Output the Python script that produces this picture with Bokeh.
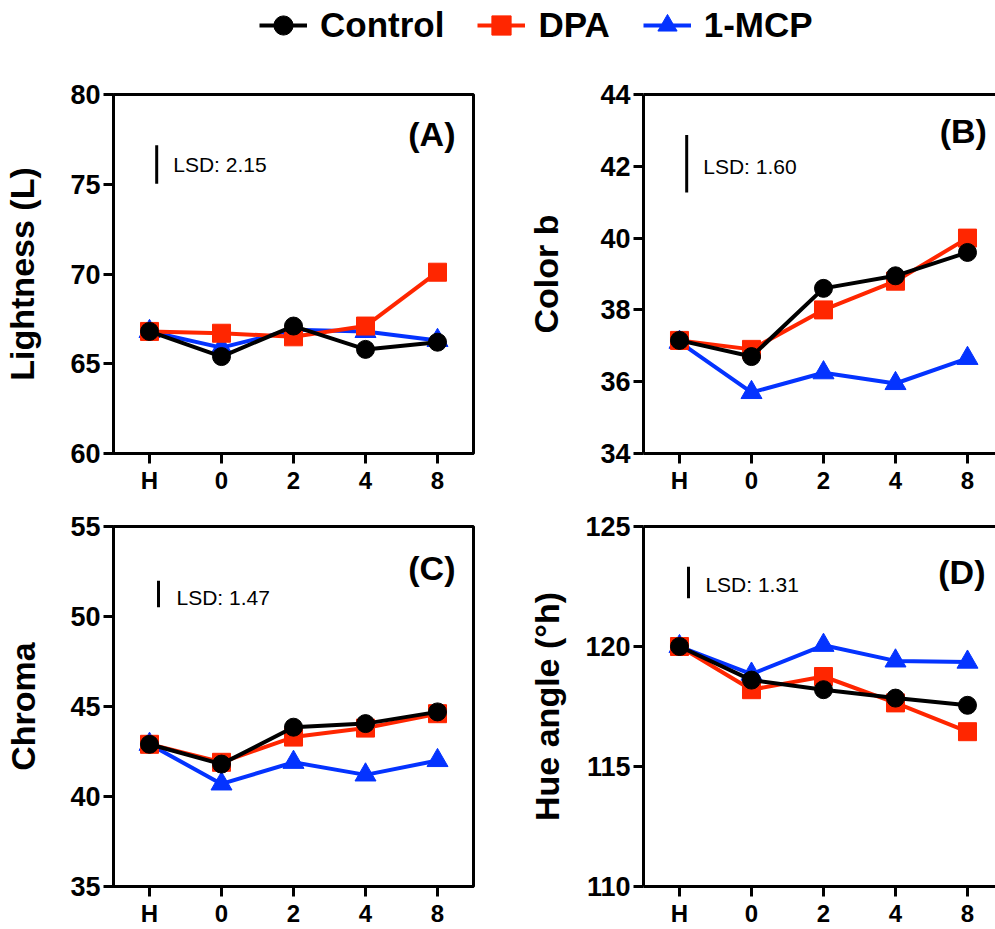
from bokeh.plotting import figure
from bokeh.models import (ColumnDataSource, Range1d, FixedTicker, LinearAxis,
                          Label, Legend, LegendItem)
from bokeh.layouts import column, row
from bokeh.embed import file_html
from bokeh.resources import INLINE

# ---------------- data ----------------
categories = ["H", "0", "2", "4", "8"]
series_names = ["Control", "DPA", "1-MCP"]

lightness_control = [66.8, 65.4, 67.1, 65.8, 66.2]
lightness_dpa = [66.8, 66.7, 66.5, 67.1, 70.1]
lightness_mcp = [66.8, 65.9, 66.9, 66.8, 66.3]

colorb_control = [37.15, 36.7, 38.6, 38.95, 39.6]
colorb_dpa = [37.15, 36.9, 38.0, 38.8, 40.0]
colorb_mcp = [37.1, 35.7, 36.25, 35.95, 36.65]

chroma_control = [42.9, 41.8, 43.85, 44.05, 44.7]
chroma_dpa = [42.9, 41.9, 43.3, 43.8, 44.6]
chroma_mcp = [42.9, 40.7, 41.9, 41.2, 42.0]

hue_control = [120.0, 118.6, 118.2, 117.85, 117.55]
hue_dpa = [120.0, 118.2, 118.75, 117.65, 116.45]
hue_mcp = [120.0, 118.85, 120.05, 119.4, 119.35]

lsd_values = [2.15, 1.60, 1.47, 1.31]
panel_tags = ["(A)", "(B)", "(C)", "(D)"]
y_titles = ["Lightness (L)", "Color b", "Chroma", "Hue angle (\u00b0h)"]
yticks_a = [60, 65, 70, 75, 80]
yticks_b = [34, 36, 38, 40, 42, 44]
yticks_c = [35, 40, 45, 50, 55]
yticks_d = [110, 115, 120, 125]

# ---------------- style ----------------
FONT = "Liberation Sans"
COLORS = {"Control": "#000000", "DPA": "#FF2600", "1-MCP": "#0433FF"}
MARKERS = {"Control": "circle", "DPA": "square", "1-MCP": "triangle"}
SIZES = {"Control": 18, "DPA": 18, "1-MCP": 21}
DRAW_ORDER = ["1-MCP", "DPA", "Control"]

xs = list(range(len(categories)))


def make_panel(ytitle, series, yticks, tag, tag_xy, lsd, lsd_x, lsd_mid,
               lsd_txt_xy, left_col, top_row, title_standoff):
    w = 500 if left_col else 495
    h = 448 if top_row else 429
    x_end = 4.5 if left_col else 4.389
    p = figure(width=w, height=h,
               x_range=Range1d(-0.5, x_end),
               y_range=Range1d(yticks[0], yticks[-1]),
               toolbar_location=None, output_backend="svg", tools="",
               min_border_left=113 if left_col else 143,
               min_border_right=27 if left_col else 0,
               min_border_top=42 if top_row else 26,
               min_border_bottom=47 if top_row else 43)
    p.xgrid.visible = False
    p.ygrid.visible = False
    p.background_fill_color = "white"
    p.border_fill_color = "white"
    for ax in (p.xaxis[0], p.yaxis[0]):
        ax.axis_line_width = 3
        ax.axis_line_color = "black"
        ax.major_tick_line_width = 3
        ax.major_tick_line_color = "black"
        ax.major_tick_out = 10
        ax.major_tick_in = 0
        ax.minor_tick_line_color = None
        ax.major_label_text_font = FONT
        ax.major_label_text_font_style = "bold"
        ax.major_label_text_color = "black"
        ax.major_label_standoff = 3
    p.xaxis.ticker = FixedTicker(ticks=xs)
    p.xaxis.major_label_overrides = {i: c for i, c in zip(xs, categories)}
    p.xaxis.major_label_text_font_size = "24px"
    p.yaxis.ticker = FixedTicker(ticks=yticks)
    p.yaxis.major_label_text_font_size = "27px"
    p.yaxis.axis_label = ytitle
    p.yaxis.axis_label_text_font = FONT
    p.yaxis.axis_label_text_font_size = "34px"
    p.yaxis.axis_label_text_font_style = "bold"
    p.yaxis.axis_label_text_color = "black"
    p.yaxis.axis_label_standoff = title_standoff

    if left_col:
        p.outline_line_color = "black"
        p.outline_line_width = 3
        p.outline_line_alpha = 1
    else:
        p.outline_line_color = None
        top = LinearAxis(ticker=FixedTicker(ticks=[]), axis_line_width=3,
                         axis_line_color="black", major_tick_line_color=None,
                         minor_tick_line_color=None,
                         major_label_text_font_size="0px")
        p.add_layout(top, "above")

    for name in DRAW_ORDER:
        vals = series[name]
        src = ColumnDataSource(dict(x=xs, y=vals))
        p.line("x", "y", source=src, line_color=COLORS[name], line_width=4)
        p.scatter("x", "y", source=src, marker=MARKERS[name], size=SIZES[name],
                  fill_color=COLORS[name], line_color=COLORS[name])

    p.segment(x0=[lsd_x], y0=[lsd_mid - lsd / 2], x1=[lsd_x],
              y1=[lsd_mid + lsd / 2], line_width=3, line_color="black")
    p.add_layout(Label(x=lsd_txt_xy[0], y=lsd_txt_xy[1], text=f"LSD: {lsd:.2f}",
                       text_font=FONT, text_font_size="21px",
                       text_baseline="middle", text_align="left",
                       text_color="black"))
    p.add_layout(Label(x=tag_xy[0], y=tag_xy[1], text=tag, text_font=FONT,
                       text_font_size="34px", text_font_style="bold",
                       text_baseline="middle", text_align="right",
                       text_color="black"))
    return p


series_a = {"Control": lightness_control, "DPA": lightness_dpa, "1-MCP": lightness_mcp}
series_b = {"Control": colorb_control, "DPA": colorb_dpa, "1-MCP": colorb_mcp}
series_c = {"Control": chroma_control, "DPA": chroma_dpa, "1-MCP": chroma_mcp}
series_d = {"Control": hue_control, "DPA": hue_dpa, "1-MCP": hue_mcp}

pA = make_panel(y_titles[0], series_a, yticks_a, panel_tags[0], (4.25, 77.8),
                lsd_values[0], 0.1, 76.1, (0.33, 76.1), True, True, 26)
pB = make_panel(y_titles[1], series_b, yticks_b, panel_tags[1], (4.27, 42.97),
                lsd_values[1], 0.1, 42.07, (0.33, 41.99), False, True, 32)
pC = make_panel(y_titles[2], series_c, yticks_c, panel_tags[2], (4.25, 52.7),
                lsd_values[2], 0.125, 51.25, (0.375, 51.06), True, False, 25)
pD = make_panel(y_titles[3], series_d, yticks_d, panel_tags[3], (4.25, 123.1),
                lsd_values[3], 0.125, 122.67, (0.36, 122.6), False, False, 16)

# ---------------- legend strip ----------------
# legend renderers reuse panel (A) data, which lies outside this strip's view
leg = figure(width=995, height=52, toolbar_location=None, output_backend="svg",
             tools="", min_border=0, x_range=Range1d(0, 1), y_range=Range1d(0, 1),
             x_axis_location=None, y_axis_location=None)
leg.grid.visible = False
leg.outline_line_color = None
items = []
for name in series_names:
    src = ColumnDataSource(dict(x=xs, y=series_a[name]))
    r1 = leg.line("x", "y", source=src, line_color=COLORS[name], line_width=4)
    r2 = leg.scatter("x", "y", source=src, marker=MARKERS[name], size=SIZES[name],
                     fill_color=COLORS[name], line_color=COLORS[name])
    items.append(LegendItem(label=name, renderers=[r1, r2]))
legend = Legend(items=items, orientation="horizontal", location=(259, 3),
                glyph_width=48, glyph_height=48, label_standoff=13, spacing=33,
                padding=0, margin=0, border_line_color=None,
                background_fill_alpha=0, label_text_font=FONT,
                label_text_font_size="35px", label_text_font_style="bold",
                label_text_color="black")
leg.add_layout(legend)

layout = column(leg, row(pA, pB), row(pC, pD))
open("out.html", "w").write(file_html(layout, INLINE))
